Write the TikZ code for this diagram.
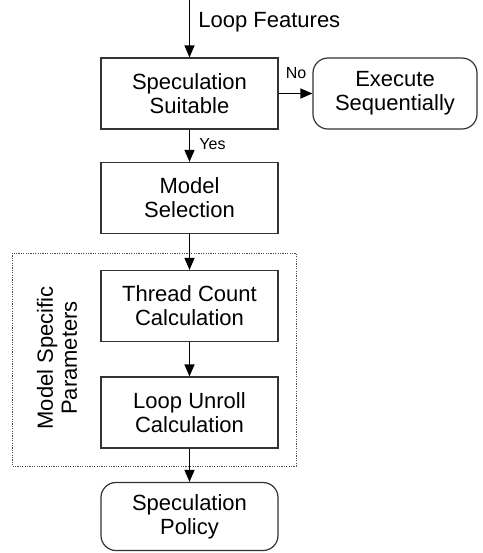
\documentclass[tikz,border=0pt]{standalone}
\usepackage{fontspec}
\setmainfont{Liberation Sans}
\usetikzlibrary{arrows.meta}
\begin{document}
\begin{tikzpicture}[x=0.5pt,y=-0.5pt,
  every node/.style={font=\fontsize{11}{12}\selectfont},
  block/.style={draw=black!80, line width=0.6pt, minimum width=88.5pt, minimum height=35.5pt, align=center, inner sep=0pt},
  term/.style={block, rounded corners=7.5pt},
  flow/.style={draw=black, line width=0.6pt, -{Triangle[length=6pt,width=5pt]}},
  small/.style={font=\fontsize{8}{9}\selectfont, inner sep=0pt}]
  \useasboundingbox (0,0) rectangle (483,553);

  % grouping frame for the per-model parameters
  \draw[black!70, line width=0.5pt, dash pattern=on 0.6pt off 0.6pt] (12,253) rectangle (296,466);
  \node[rotate=90, align=center] (grp) at (57,358) {Model Specific\\Parameters};

  \node[block] (suit) at (189.5,93.5) {Speculation\\Suitable};
  \node[term, minimum width=82pt] (seq) at (395,93.5) {Execute\\Sequentially};
  \node[block] (sel) at (189.5,198) {Model\\Selection};
  \node[block] (thr) at (189.5,306) {Thread Count\\Calculation};
  \node[block] (unr) at (189.5,412.5) {Loop Unroll\\Calculation};
  \node[term, minimum height=34pt] (pol) at (189.5,516.5) {Speculation\\Policy};

  \coordinate (in) at (189.5,0);
  \draw[flow] (in) -- (suit.north);
  \node[anchor=west, inner sep=0pt] (lf) at (198,22) {Loop Features};

  \draw[flow] (suit.east) -- (seq.west);
  \node[small] (no) at (296,73) {No};

  \draw[flow] (suit.south) -- (sel.north);
  \node[small, anchor=west] (yes) at (199,144) {Yes};

  \draw[flow] (sel.south) -- (thr.north);
  \draw[flow] (thr.south) -- (unr.north);
  \draw[flow] (unr.south) -- (pol.north);
\end{tikzpicture}
\end{document}
